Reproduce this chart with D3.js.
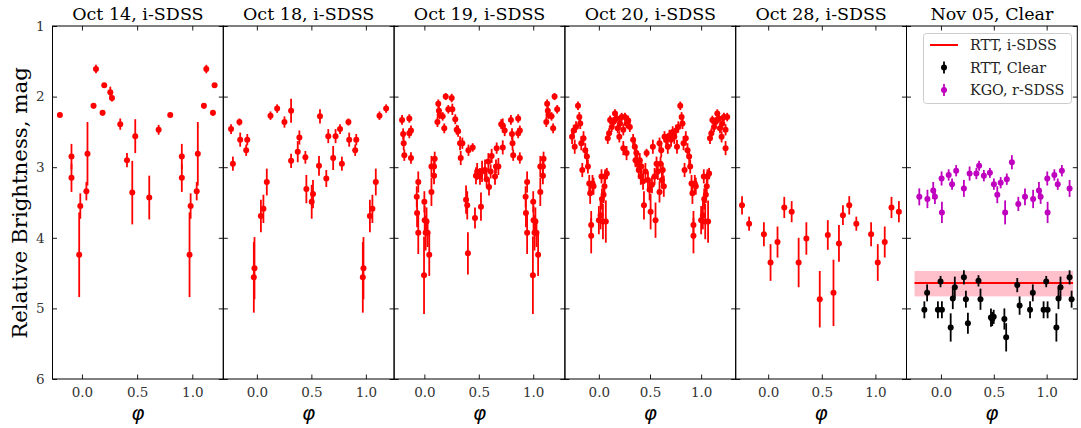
<!DOCTYPE html>
<html><head><meta charset="utf-8">
<script src="https://cdn.jsdelivr.net/npm/d3@7"></script>
<style>body{margin:0;background:#fff}</style>
</head><body>
<svg id="c" width="1081" height="428"></svg>
<script>
// ---------- data ----------
const panelTitles = ["Oct 14, i-SDSS", "Oct 18, i-SDSS", "Oct 19, i-SDSS", "Oct 20, i-SDSS", "Oct 28, i-SDSS", "Nov 05, Clear"];
const xDomains = [[-0.267, 1.281], [-0.308, 1.259], [-0.278, 1.291], [-0.332, 1.338], [-0.303, 1.29], [-0.326, 1.29]];
const foldRanges = [[-0.25, 1.25], [-0.25, 1.25], [-0.25, 1.25], [-0.27, 1.27], [-0.25, 1.25], [-0.25, 1.25]];
const xTicks = [0, 0.5, 1.0];
const yTicks = [1, 2, 3, 4, 5, 6];
const yDomain = [1, 6];

// [phase, mag, error]
const oct14 = [
  [0.80, 2.26, 0.03], [0.905, 2.85, 0.18], [0.905, 3.15, 0.2], [0.975, 4.24, 0.6], [0.985, 3.55, 0.18],
  [0.04, 3.34, 0.13], [0.05, 2.81, 0.45], [0.105, 2.13, 0.04], [0.127, 1.61, 0.06], [0.187, 2.23, 0.04],
  [0.202, 1.84, 0.03], [0.257, 1.94, 0.08], [0.272, 2.02, 0.05], [0.347, 2.39, 0.08], [0.408, 2.90, 0.1],
  [0.456, 3.36, 0.45], [0.483, 2.56, 0.24], [0.61, 3.43, 0.31], [0.695, 2.47, 0.07]
];
const oct18 = [
  [0.972, 4.56, 0.5], [0.978, 4.43, 0.44], [0.037, 3.69, 0.23], [0.06, 3.59, 0.2], [0.091, 3.21, 0.19],
  [0.125, 2.27, 0.06], [0.186, 2.17, 0.06], [0.253, 2.36, 0.08], [0.314, 2.20, 0.17], [0.314, 2.91, 0.1],
  [0.375, 2.78, 0.15], [0.39, 2.58, 0.1], [0.445, 2.86, 0.09], [0.454, 3.31, 0.2], [0.503, 3.49, 0.24],
  [0.515, 3.38, 0.2], [0.57, 2.98, 0.14], [0.579, 2.28, 0.1], [0.637, 3.16, 0.12], [0.655, 2.56, 0.1],
  [0.70, 2.87, 0.17], [0.722, 2.56, 0.1], [0.763, 2.46, 0.07], [0.78, 2.95, 0.1], [0.84, 2.36, 0.05],
  [0.847, 2.61, 0.1], [0.902, 2.76, 0.08], [0.912, 2.61, 0.08]
];
const oct19 = [
  [0.0, 3.49, 0.15], [0.003, 3.75, 0.2], [0.997, 4.53, 0.55], [0.012, 3.93, 0.25], [0.02, 3.77, 0.2],
  [0.03, 3.93, 0.2], [0.045, 4.24, 0.3], [0.065, 3.35, 0.2], [0.065, 2.99, 0.15], [0.089, 2.99, 0.12],
  [0.089, 3.12, 0.12], [0.095, 2.88, 0.1], [0.12, 2.36, 0.07], [0.128, 2.10, 0.06], [0.134, 2.20, 0.07],
  [0.14, 2.26, 0.06], [0.168, 2.28, 0.06], [0.183, 2.45, 0.07], [0.196, 2.00, 0.05], [0.22, 2.18, 0.06],
  [0.251, 2.02, 0.06], [0.257, 2.18, 0.08], [0.284, 2.32, 0.07], [0.297, 2.47, 0.07], [0.31, 2.49, 0.08],
  [0.328, 2.66, 0.1], [0.334, 2.87, 0.1], [0.349, 2.66, 0.08], [0.383, 3.46, 0.2], [0.394, 3.54, 0.2],
  [0.40, 4.22, 0.3], [0.405, 2.76, 0.08], [0.444, 2.72, 0.06], [0.465, 3.72, 0.15], [0.474, 3.12, 0.12],
  [0.485, 3.06, 0.12], [0.511, 3.13, 0.12], [0.52, 3.56, 0.2], [0.53, 3.06, 0.15], [0.557, 3.04, 0.15],
  [0.572, 3.17, 0.12], [0.588, 2.92, 0.12], [0.594, 3.28, 0.12], [0.609, 3.06, 0.1], [0.618, 2.84, 0.1],
  [0.649, 3.13, 0.12], [0.658, 2.99, 0.1], [0.664, 2.73, 0.08], [0.68, 2.99, 0.12], [0.706, 2.39, 0.07],
  [0.72, 2.41, 0.1], [0.72, 2.72, 0.1], [0.738, 2.48, 0.08], [0.795, 2.33, 0.07], [0.805, 2.53, 0.08],
  [0.81, 2.66, 0.1], [0.816, 2.83, 0.08], [0.862, 2.31, 0.06], [0.862, 2.52, 0.07], [0.877, 2.48, 0.07],
  [0.877, 2.87, 0.08], [0.93, 3.42, 0.15], [0.933, 3.65, 0.2], [0.944, 3.21, 0.15], [0.944, 3.93, 0.3]
];
const oct20 = [
  [0.0, 3.75, 0.2], [0.017, 3.68, 0.2], [0.026, 3.13, 0.1], [0.03, 3.45, 0.15], [0.04, 3.77, 0.25],
  [0.046, 3.39, 0.12], [0.055, 3.27, 0.1], [0.062, 3.13, 0.1], [0.068, 3.77, 0.3], [0.078, 3.09, 0.08],
  [0.087, 2.59, 0.08], [0.10, 2.52, 0.07], [0.11, 2.33, 0.06], [0.126, 2.43, 0.07], [0.142, 2.36, 0.07],
  [0.158, 2.24, 0.06], [0.174, 2.31, 0.06], [0.184, 2.45, 0.07], [0.20, 2.57, 0.08], [0.207, 2.38, 0.07],
  [0.223, 2.29, 0.06], [0.239, 2.47, 0.08], [0.255, 2.29, 0.06], [0.271, 2.38, 0.07], [0.287, 2.34, 0.07],
  [0.303, 2.43, 0.07], [0.239, 2.73, 0.1], [0.271, 2.80, 0.1], [0.335, 2.61, 0.08], [0.351, 2.71, 0.1],
  [0.358, 2.90, 0.1], [0.367, 2.80, 0.1], [0.377, 2.95, 0.12], [0.39, 3.04, 0.12], [0.40, 2.90, 0.1],
  [0.41, 3.13, 0.12], [0.416, 2.99, 0.1], [0.432, 3.20, 0.12], [0.441, 3.54, 0.2], [0.455, 3.06, 0.12],
  [0.467, 2.80, 0.06], [0.48, 3.18, 0.12], [0.496, 3.32, 0.15], [0.506, 3.63, 0.25], [0.519, 3.25, 0.12],
  [0.528, 2.71, 0.1], [0.545, 3.13, 0.12], [0.554, 3.75, 0.25], [0.564, 2.95, 0.1], [0.577, 3.06, 0.12],
  [0.593, 3.35, 0.15], [0.603, 2.95, 0.1], [0.616, 3.18, 0.12], [0.625, 3.04, 0.1], [0.635, 3.27, 0.15],
  [0.593, 2.66, 0.08], [0.61, 2.76, 0.1], [0.642, 2.57, 0.08], [0.658, 2.61, 0.08], [0.674, 2.71, 0.1],
  [0.69, 2.55, 0.08], [0.706, 2.61, 0.1], [0.722, 2.50, 0.08], [0.738, 2.57, 0.1], [0.754, 2.48, 0.08],
  [0.764, 2.71, 0.1], [0.777, 2.43, 0.08], [0.796, 2.13, 0.06], [0.809, 2.29, 0.07], [0.818, 2.38, 0.08],
  [0.828, 2.66, 0.1], [0.838, 3.04, 0.1], [0.85, 2.59, 0.1], [0.867, 2.76, 0.1], [0.883, 2.85, 0.12],
  [0.893, 2.99, 0.1], [0.906, 3.23, 0.12], [0.915, 3.37, 0.15], [0.925, 3.82, 0.2], [0.925, 3.97, 0.25],
  [0.938, 3.23, 0.12], [0.948, 3.27, 0.12]
];
const oct28 = [
  [0.022, 4.35, 0.26], [0.087, 4.06, 0.22], [0.15, 3.57, 0.15], [0.219, 3.63, 0.15], [0.284, 4.35, 0.35],
  [0.356, 4.01, 0.23], [0.481, 4.87, 0.4], [0.556, 3.96, 0.21], [0.609, 4.78, 0.47], [0.66, 4.08, 0.26],
  [0.697, 3.68, 0.14], [0.756, 3.54, 0.13], [0.822, 3.80, 0.1], [0.96, 3.95, 0.17]
];
const nov05Clear = [
  [0.843, 5.02, 0.12], [0.869, 4.78, 0.12], [0.971, 5.02, 0.12], [0.996, 4.62, 0.08], [0.009, 5.02, 0.12],
  [0.092, 5.27, 0.2], [0.112, 4.86, 0.15], [0.131, 4.70, 0.15], [0.217, 4.56, 0.1], [0.236, 4.87, 0.12],
  [0.255, 5.21, 0.15], [0.355, 4.61, 0.08], [0.374, 4.87, 0.15], [0.473, 5.13, 0.13], [0.485, 5.15, 0.1],
  [0.499, 5.12, 0.1], [0.60, 5.15, 0.15], [0.617, 5.41, 0.2], [0.722, 4.67, 0.1], [0.744, 4.96, 0.13]
];
const nov05KGO = [
  [0.006, 3.16, 0.1], [0.009, 3.64, 0.15], [0.073, 3.11, 0.08], [0.105, 3.24, 0.08], [0.144, 3.05, 0.08],
  [0.217, 3.30, 0.12], [0.271, 3.09, 0.1], [0.335, 3.09, 0.08], [0.361, 2.98, 0.07], [0.406, 3.12, 0.08],
  [0.463, 3.08, 0.07], [0.501, 3.24, 0.08], [0.533, 3.39, 0.12], [0.565, 3.22, 0.08], [0.607, 3.64, 0.17],
  [0.623, 3.17, 0.08], [0.671, 2.93, 0.1], [0.732, 3.52, 0.1], [0.795, 3.42, 0.12], [0.872, 3.45, 0.13],
  [0.927, 3.33, 0.12], [0.943, 3.42, 0.1]
];
const nov05RTTiMean = 4.64;
const nov05RTTiBand = [4.47, 4.83];
const legendLabels = ["RTT, i-SDSS", "RTT, Clear", "KGO, r-SDSS"];

const panelSeries = [
  [{data: oct14, color: "#ff0000"}],
  [{data: oct18, color: "#ff0000"}],
  [{data: oct19, color: "#ff0000"}],
  [{data: oct20, color: "#ff0000"}],
  [{data: oct28, color: "#ff0000"}],
  [{data: nov05Clear, color: "#000000"}, {data: nov05KGO, color: "#bf00bf"}]
];

// ---------- layout ----------
const svg = d3.select("#c");
const left0 = 52.5, pw = 170.8, plotTop = 26, plotBottom = 379;
const serif = "'DejaVu Serif', serif";
const y = d3.scaleLinear().domain(yDomain).range([plotTop, plotBottom]);

function fold(data, lo, hi) {
  const out = [];
  data.forEach(d => {
    [-1, 0, 1].forEach(s => {
      const p = d[0] + s;
      if (p >= lo && p <= hi) out.push([p, d[1], d[2]]);
    });
  });
  return out;
}

panelTitles.forEach((title, i) => {
  const L = left0 + i * pw, R = L + pw;
  const x = d3.scaleLinear().domain(xDomains[i]).range([L, R]);
  const g = svg.append("g");
  const [lo, hi] = foldRanges[i];

  if (i === 5) {
    g.append("rect")
      .attr("x", x(lo)).attr("width", x(hi) - x(lo))
      .attr("y", y(nov05RTTiBand[0])).attr("height", y(nov05RTTiBand[1]) - y(nov05RTTiBand[0]))
      .attr("fill", "#ffc0cb");
    g.append("line")
      .attr("x1", x(lo)).attr("x2", x(hi))
      .attr("y1", y(nov05RTTiMean)).attr("y2", y(nov05RTTiMean))
      .attr("stroke", "#ff0000").attr("stroke-width", 2);
  }

  panelSeries[i].forEach(s => {
    const pts = fold(s.data, lo, hi);
    g.append("g").selectAll("line").data(pts).join("line")
      .attr("x1", d => x(d[0])).attr("x2", d => x(d[0]))
      .attr("y1", d => y(d[1] - d[2])).attr("y2", d => y(d[1] + d[2]))
      .attr("stroke", s.color).attr("stroke-width", 1.8);
    g.append("g").selectAll("circle").data(pts).join("circle")
      .attr("cx", d => x(d[0])).attr("cy", d => y(d[1])).attr("r", 3)
      .attr("fill", s.color);
  });

  const styleAxis = sel => {
    sel.select(".domain").remove();
    sel.selectAll(".tick line").attr("stroke", "#000").attr("stroke-width", 0.9);
    sel.selectAll("text").attr("font-family", serif).attr("font-size", 13.5).attr("fill", "#333");
  };
  g.append("g").attr("transform", `translate(0,${plotBottom})`)
    .call(d3.axisBottom(x).tickValues(xTicks).tickSize(-4.5).tickPadding(8).tickFormat(d3.format(".1f")))
    .call(styleAxis);
  g.append("g").attr("transform", `translate(0,${plotTop})`)
    .call(d3.axisTop(x).tickValues(xTicks).tickSize(-4.5).tickFormat(""))
    .call(styleAxis);
  g.append("g").attr("transform", `translate(${L},0)`)
    .call(d3.axisLeft(y).tickValues(yTicks).tickSize(-4.5).tickPadding(8).tickFormat(i === 0 ? d3.format("d") : ""))
    .call(styleAxis);
  g.append("g").attr("transform", `translate(${R},0)`)
    .call(d3.axisRight(y).tickValues(yTicks).tickSize(-4.5).tickFormat(""))
    .call(styleAxis);

  g.append("rect").attr("x", L).attr("y", plotTop).attr("width", pw).attr("height", plotBottom - plotTop)
    .attr("fill", "none").attr("stroke", "#000").attr("stroke-width", 1);

  g.append("text").attr("x", (L + R) / 2).attr("y", 19.5).attr("text-anchor", "middle")
    .attr("font-family", serif).attr("font-size", 17.5).attr("fill", "#000").text(title);
  g.append("text").attr("x", (L + R) / 2).attr("y", 420).attr("text-anchor", "middle")
    .attr("font-family", "'DejaVu Sans', sans-serif").attr("font-style", "italic")
    .attr("font-size", 20).attr("fill", "#000").text("φ");
});

svg.append("text").attr("transform", "translate(27,203) rotate(-90)")
  .attr("text-anchor", "middle").attr("font-family", serif).attr("font-size", 21.3)
  .attr("fill", "#000").text("Relative Brightness, mag");

// legend
const lg = svg.append("g");
lg.append("rect").attr("x", 923.5).attr("y", 33.5).attr("width", 148).attr("height", 70).attr("rx", 3)
  .attr("fill", "#fff").attr("fill-opacity", 0.8).attr("stroke", "#ccc");
const legendColors = ["#ff0000", "#000000", "#bf00bf"];
legendLabels.forEach((lab, k) => {
  const cy = 45 + k * 22.5;
  if (k === 0) {
    lg.append("line").attr("x1", 930).attr("x2", 958).attr("y1", cy).attr("y2", cy)
      .attr("stroke", legendColors[k]).attr("stroke-width", 2);
  } else {
    lg.append("line").attr("x1", 944).attr("x2", 944).attr("y1", cy - 6).attr("y2", cy + 6)
      .attr("stroke", legendColors[k]).attr("stroke-width", 1.8);
    lg.append("circle").attr("cx", 944).attr("cy", cy).attr("r", 3).attr("fill", legendColors[k]);
  }
  lg.append("text").attr("x", 970).attr("y", cy + 5).attr("font-family", serif).attr("font-size", 14.3)
    .attr("fill", "#222").text(lab);
});
</script>
</body></html>
